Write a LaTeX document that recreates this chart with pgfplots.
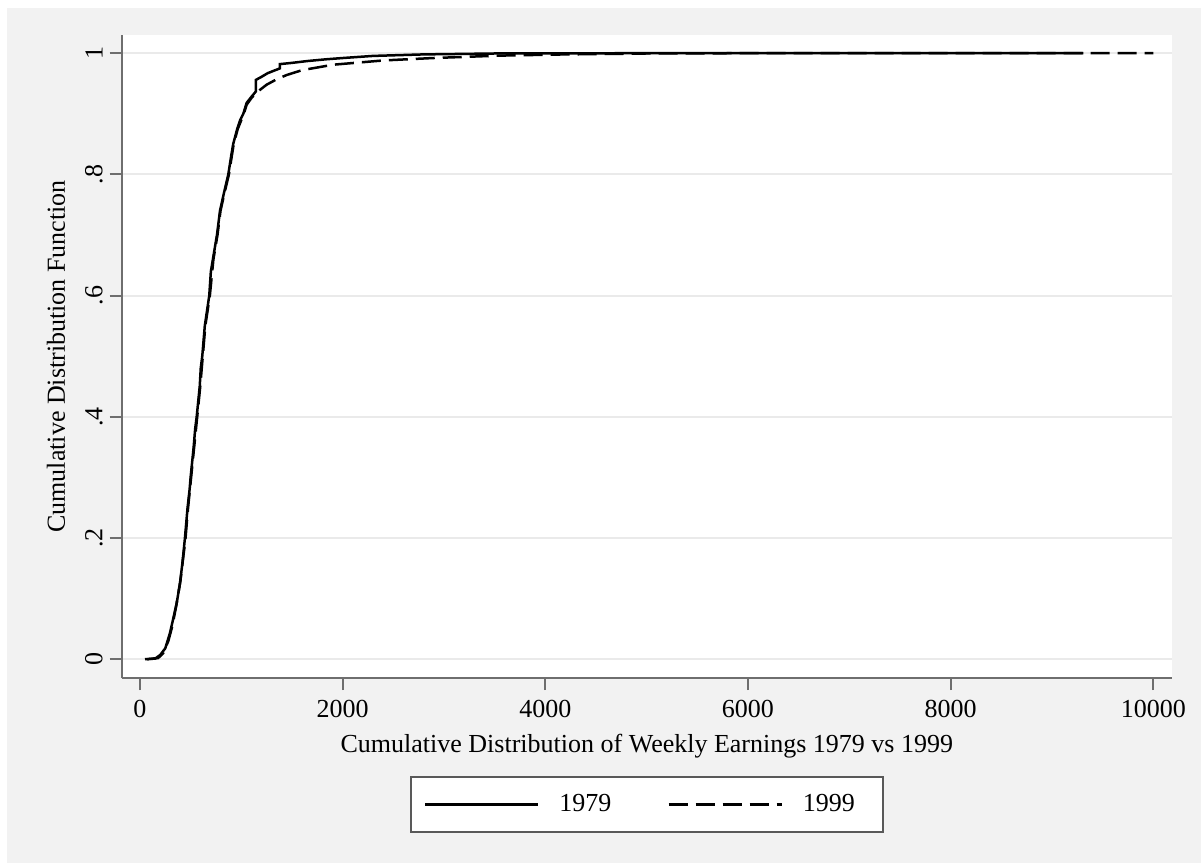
\documentclass[border=0pt]{standalone}
\usepackage{fontspec}
\setmainfont{Liberation Serif}
\usepackage{pgfplots}
\pgfplotsset{compat=1.18}
\usepackage{pgfplotstable}
\definecolor{stbg}{HTML}{F2F2F2}
\definecolor{staxis}{HTML}{6E6E6E}
\definecolor{stgrid}{HTML}{EAEAEA}
\newcommand{\stfont}{\fontsize{13}{15}\selectfont}

% earnings  cdf
\pgfplotstableread{
x F
50 0
150 0.001
200 0.007
250 0.018
296 0.043
330 0.068
362 0.092
380 0.110
395 0.125
420 0.160
444 0.200
470 0.250
490 0.280
500 0.300
530 0.350
545 0.380
560 0.400
590 0.450
600 0.480
615 0.500
640 0.550
684 0.600
700 0.640
720 0.660
760 0.700
790 0.740
830 0.770
872 0.800
900 0.830
920 0.850
960 0.875
990 0.890
1020 0.900
1053 0.918
1100 0.928
1145 0.937
1145 0.956
1200 0.961
1260 0.967
1382 0.975
1382 0.982
1500 0.984
1650 0.987
1842 0.990
2000 0.992
2300 0.9955
2800 0.998
3500 0.9995
5000 1.0
9310 1.0
}\dataA

\pgfplotstableread{
x F
70 0
180 0.002
230 0.010
280 0.030
320 0.055
360 0.090
400 0.130
450 0.200
475 0.250
505 0.300
535 0.350
565 0.400
595 0.450
620 0.500
645 0.550
690 0.600
725 0.660
765 0.700
795 0.740
835 0.770
878 0.800
925 0.850
965 0.875
1025 0.900
1053 0.915
1100 0.926
1150 0.935
1250 0.948
1350 0.957
1448 0.964
1600 0.972
1907 0.981
2400 0.988
2893 0.992
3553 0.996
4200 0.998
5000 0.9995
6000 1.0
10000 1.0
}\dataB

\begin{document}
\begin{tikzpicture}
\fill[white] (0,0) rectangle (600.5pt,-431.5pt);
\fill[stbg] (3.5pt,-4pt) rectangle (600.5pt,-431.5pt);
\begin{axis}[
  at={(60.85pt,-339pt)}, anchor=south west,
  scale only axis, width=525.15pt, height=321.5pt,
  xmin=-180, xmax=10184, ymin=-0.031, ymax=1.030,
  axis x line*=bottom, axis y line*=left,
  axis line style={staxis, line width=1pt},
  axis background/.style={fill=white},
  scaled x ticks=false, scaled y ticks=false,
  xtick={0,2000,4000,6000,8000,10000},
  xticklabels={0,2000,4000,6000,8000,10000},
  ytick={0,0.2,0.4,0.6,0.8,1},
  yticklabels={0,.2,.4,.6,.8,1},
  tick align=outside, major tick length=6pt,
  tick style={staxis, line width=1pt},
  ymajorgrids, grid style={stgrid, line width=1pt},
  tick label style={font=\stfont},
  xticklabel style={yshift=-1.5pt},
  yticklabel style={rotate=90, anchor=south},
  xlabel={Cumulative Distribution of Weekly Earnings 1979 vs 1999},
  ylabel={Cumulative Distribution Function},
  every axis x label/.style={at={(axis description cs:0.5,-0.1151)}, anchor=base, font=\stfont},
  every axis y label/.style={at={(axis description cs:-0.054,0.5)}, anchor=base, rotate=90, font=\stfont},
  legend columns=2,
  legend style={at={(axis description cs:0.5,-0.1524)}, anchor=north,
    draw=black!65, line width=1pt, fill=white, font=\stfont,
    inner xsep=6.5pt, inner ysep=6.8pt,
    /tikz/every odd column/.append style={column sep=8pt},
    /tikz/every even column/.append style={column sep=26pt}},
  legend image code/.code={\draw[#1] (0pt,0pt) -- (56.5pt,0pt);},
]
\addplot[black, line width=1.25pt] table[x=x, y=F] {\dataA};
\addlegendentry{1979}
\addplot[black, line width=1.25pt, dash pattern=on 9.5pt off 4pt] table[x=x, y=F] {\dataB};
\addlegendentry{1999\hspace*{5.5pt}}
\end{axis}
\end{tikzpicture}
\end{document}
